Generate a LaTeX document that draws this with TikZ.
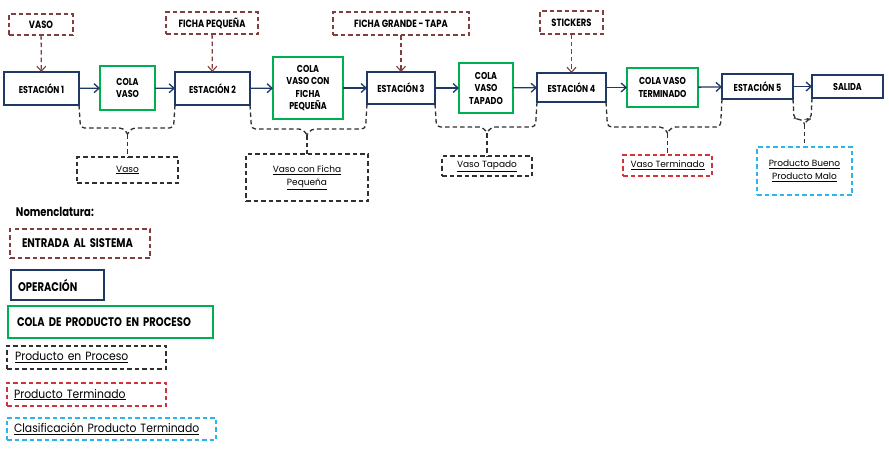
\documentclass[tikz,border=0pt]{standalone}
\usepackage{fontspec}
\setmainfont{Poppins}
\newfontfamily\narrowfont{Poppins}[FakeStretch=0.8]
\newfontfamily\midfont{Poppins}[FakeStretch=0.9]
\usetikzlibrary{arrows.meta}
\definecolor{navy}{HTML}{1F3864}
\definecolor{qgreen}{HTML}{00B050}
\definecolor{inbrown}{HTML}{7F3F3F}
\definecolor{pred}{HTML}{D0343A}
\definecolor{pcyan}{HTML}{2DB4F0}
\definecolor{pblack}{HTML}{303030}
\tikzset{
  every node/.style={inner sep=0pt, outer sep=0pt, align=center},
  station/.style={draw=navy, line width=1.8pt, font=\narrowfont\bfseries\fontsize{10}{12.5}\selectfont},
  queue/.style={draw=qgreen, line width=1.8pt, font=\narrowfont\bfseries\fontsize{10}{12.5}\selectfont},
  inbox/.style={draw=inbrown, line width=1.3pt, dash pattern=on 4.5pt off 3pt, font=\narrowfont\bfseries\fontsize{10.5}{12}\selectfont},
  prodbox/.style={draw=pblack, line width=1.3pt, dash pattern=on 4.5pt off 3pt, font=\fontsize{9}{13}\selectfont},
  termbox/.style={draw=pred, line width=1.3pt, dash pattern=on 4.5pt off 3pt, font=\fontsize{9}{13}\selectfont},
  classbox/.style={draw=pcyan, line width=1.3pt, dash pattern=on 4.5pt off 3pt, font=\fontsize{9}{13}\selectfont},
  flow/.style={draw=navy, line width=1.3pt, -{Straight Barb[length=5pt,width=9pt,line width=1.3pt]}},
  feed/.style={draw=inbrown, line width=1.3pt, dash pattern=on 4.5pt off 3pt, -{Straight Barb[length=5pt,width=9pt,line width=1.1pt]}},
  pline/.style={draw=pblack, line width=1.3pt, dash pattern=on 4.5pt off 3pt, rounded corners=4pt},
  legtext/.style={align=left, font=\narrowfont\bfseries\fontsize{12.5}{14}\selectfont},
  legsmall/.style={align=left, font=\midfont\fontsize{12}{14}\selectfont},
}
\begin{document}
\begin{tikzpicture}[x=1pt,y=-1pt]
\useasboundingbox (0,0) rectangle (889,451);
% stations and queues
\node[station, minimum width=75pt, minimum height=33pt] (e1) at (41.5,88.5) {ESTACIÓN 1};
\node[queue, minimum width=55pt, minimum height=44pt] (q1) at (127.5,88) {COLA\\VASO};
\node[station, minimum width=75pt, minimum height=33pt] (e2) at (212.5,88.5) {ESTACIÓN 2};
\node[queue, minimum width=70pt, minimum height=62pt] (q2) at (308,88) {COLA\\VASO CON\\FICHA\\PEQUEÑA};
\node[station, minimum width=68pt, minimum height=32pt] (e3) at (401,88) {ESTACIÓN 3};
\node[queue, minimum width=54pt, minimum height=50pt] (q3) at (486,88) {COLA\\VASO\\TAPADO};
\node[station, minimum width=69pt, minimum height=29pt] (e4) at (571.5,87.5) {ESTACIÓN 4};
\node[queue, minimum width=71pt, minimum height=39pt] (q4) at (662.5,87.5) {COLA VASO\\TERMINADO};
\node[station, minimum width=71pt, minimum height=25pt] (e5) at (757.5,86.5) {ESTACIÓN 5};
\node[station, minimum width=71pt, minimum height=23pt] (sal) at (847.5,86.5) {SALIDA};
% inputs
\node[inbox, minimum width=64pt, minimum height=21pt] (i1) at (41,24.5) {VASO};
\node[inbox, minimum width=92pt, minimum height=22pt] (i2) at (212,23) {FICHA PEQUEÑA};
\node[inbox, minimum width=136pt, minimum height=23pt] (i3) at (401,23.5) {FICHA GRANDE - TAPA};
\node[inbox, minimum width=63pt, minimum height=23pt] (i4) at (571.5,22.5) {STICKERS};
% products
\node[prodbox, minimum width=101pt, minimum height=26pt] (p1) at (127.5,170) {\underline{Vaso}};
\node[prodbox, minimum width=122pt, minimum height=47pt] (p2) at (307,177.5) {\underline{Vaso con Ficha}\\\underline{Pequeña}};
\node[prodbox, minimum width=90pt, minimum height=20pt] (p3) at (487,166) {\underline{Vaso Tapado}};
\node[termbox, minimum width=89pt, minimum height=21pt] (p4) at (667.5,165.5) {\underline{Vaso Terminado}};
\node[classbox, minimum width=95pt, minimum height=48pt] (p5) at (804.5,171) {\underline{Producto Bueno}\\\underline{Producto Malo}};
% flow arrows
\draw[flow] (e1) -- (q1);
\draw[flow] (q1) -- (e2);
\draw[flow] (e2) -- (q2);
\draw[flow] (q2) -- (e3);
\draw[flow] (e3) -- (q3);
\draw[flow] (q3) -- (e4);
\draw[flow] (e4) -- (q4);
\draw[flow] (q4) -- (e5);
\draw[flow] (e5) -- (sal);
% feed arrows
\draw[feed] (i1) -- (e1);
\draw[feed] (i2) -- (e2);
\draw[feed] (i3) -- (e3);
\draw[feed] (i4) -- (e4);
% braces
\newcommand\outbrace[4]{% left node, right node, bottom y, product node
  \draw[pline] (#1.south east) -- ([xshift=1.5pt]#1.south east |- 0,#3) -- ([xshift=-4pt]#4.north |- 0,#3) -- ([yshift=-6pt]#4.north |- 0,#3);
  \draw[pline] (#2.south west) -- ([xshift=-1.5pt]#2.south west |- 0,#3) -- ([xshift=4pt]#4.north |- 0,#3) -- ([yshift=-6pt]#4.north |- 0,#3);
  \draw[pline] ([yshift=-6pt]#4.north |- 0,#3) -- (#4.north);
}
\outbrace{e1}{e2}{128}{p1}
\outbrace{e2}{e3}{129}{p2}
\outbrace{e3}{e4}{127}{p3}
\outbrace{e4}{e5}{127}{p4}
\draw[pline] (e5.south east) -- ([xshift=1pt]e5.south east |- 0,119) -- ([xshift=-3pt]p5.north |- 0,119) -- ([yshift=-5pt]p5.north |- 0,119);
\draw[pline] (sal.south west) -- ([xshift=-1pt]sal.south west |- 0,119) -- ([xshift=3pt]p5.north |- 0,119) -- ([yshift=-5pt]p5.north |- 0,119);
\coordinate (p5stem) at ([yshift=4pt]p5.north);
\draw[pline] ([yshift=-5pt]p5.north |- 0,119) -- (p5stem);
% legend
\node[anchor=west, font=\narrowfont\bfseries\fontsize{12.5}{14}\selectfont] (nom) at (16,212) {Nomenclatura:};
\node[inbox, legtext, minimum height=29pt, inner xsep=12pt, text width=116pt] (l1) at (80,243.5) {ENTRADA AL SISTEMA};
\node[station, legtext, minimum height=30pt, inner xsep=7pt, text width=79pt] (l2) at (57.5,285) {OPERACIÓN};
\node[queue, legtext, minimum height=32pt, inner xsep=9pt, text width=187pt] (l3) at (110.5,322) {COLA DE PRODUCTO EN PROCESO};
\node[prodbox, legsmall, minimum height=23pt, inner xsep=8pt, text width=143pt] (l4) at (86.5,357.5) {\underline{Producto en Proceso}};
\node[termbox, legsmall, minimum height=23pt, inner xsep=7pt, text width=145pt] (l5) at (86.5,394.5) {\underline{Producto Terminado}};
\node[classbox, legsmall, minimum height=22pt, inner xsep=7pt, text width=195pt] (l6) at (111.5,429) {\underline{Clasificación Producto Terminado}};
\end{tikzpicture}
\end{document}
